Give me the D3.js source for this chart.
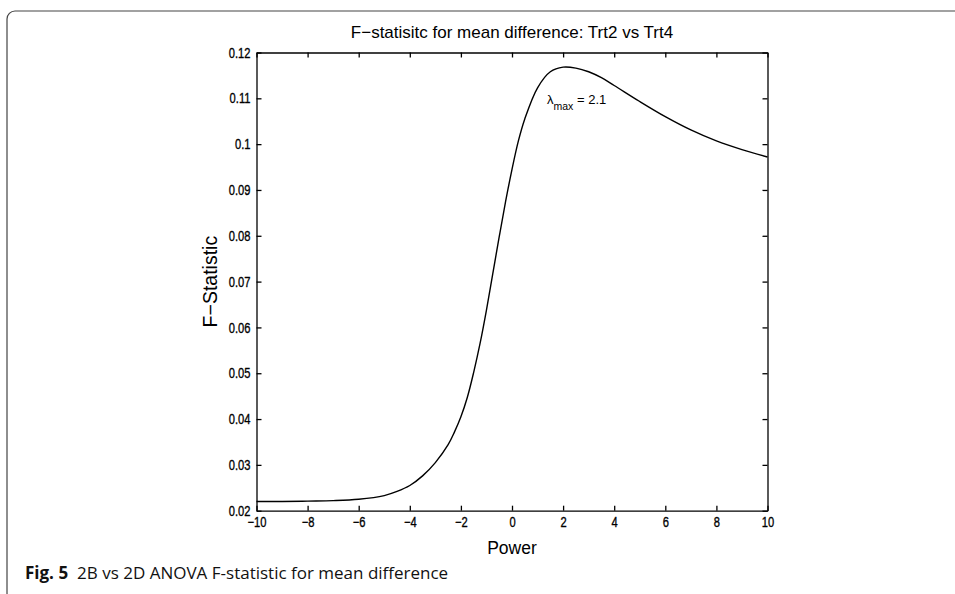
<!DOCTYPE html>
<html>
<head>
<meta charset="utf-8">
<script src="https://cdn.jsdelivr.net/npm/d3@7"></script>
<style>
  body { margin: 0; background: #fff; }
  svg { display: block; }
  .plot text { font-family: "Liberation Sans", Arial, Helvetica, sans-serif; fill: #000; }
  .caption { font-family: "Open Sans", "Noto Sans", sans-serif; font-size: 17px; fill: #111; }
</style>
</head>
<body>
<div id="chart"></div>
<script>
// F-statistic against the Box-Cox power
const power = [-10, -9, -8, -7, -6, -5, -4.5, -4, -3.5, -3, -2.5, -2.25, -2, -1.75, -1.5, -1.25, -1, -0.75, -0.5, -0.25,
               0, 0.25, 0.5, 1, 1.5, 2, 2.5, 3, 3.5, 4, 5, 6, 7, 8, 9, 10];
const fStat = [0.0220, 0.0220, 0.0221, 0.0222, 0.0225, 0.0233, 0.0242, 0.0255, 0.0276, 0.0305, 0.0344, 0.0372, 0.0405, 0.0447, 0.0502, 0.0565, 0.0638, 0.0718, 0.0798, 0.0875,
               0.0945, 0.1007, 0.1055, 0.1123, 0.1158, 0.1168, 0.1166, 0.1158, 0.1145, 0.1128, 0.1093, 0.1060, 0.1031, 0.1007, 0.0988, 0.0972];

const xTicks = [-10, -8, -6, -4, -2, 0, 2, 4, 6, 8, 10];
const yTicks = [0.02, 0.03, 0.04, 0.05, 0.06, 0.07, 0.08, 0.09, 0.1, 0.11, 0.12];

const lambdaMax = 2.1;
const titleText = "F\u2212statisitc for mean difference: Trt2 vs Trt4";
const xLabel = "Power";
const yLabel = "F\u2212Statistic";
const captionBold = "Fig. 5";
const captionText = "2B vs 2D ANOVA F-statistic for mean difference";

const W = 955, H = 594;
const margin = { top: 52.5, right: 187.5, bottom: 83.3, left: 256.5 };
const width = W - margin.left - margin.right;
const height = H - margin.top - margin.bottom;

const svg = d3.select("#chart").append("svg")
  .attr("width", W)
  .attr("height", H)
  .attr("viewBox", `0 0 ${W} ${H}`);

// rounded frame of the figure box
svg.append("rect")
  .attr("x", 7).attr("y", 11)
  .attr("width", 1000).attr("height", 590)
  .attr("rx", 8).attr("ry", 8)
  .attr("fill", "none")
  .attr("stroke", "#444")
  .attr("stroke-width", 1.2);

const g = svg.append("g")
  .attr("class", "plot")
  .attr("transform", `translate(${margin.left},${margin.top})`);

const x = d3.scaleLinear().domain([-10, 10]).range([0, width]);
const y = d3.scaleLinear().domain([0.02, 0.12]).range([height, 0]);

const fmtY = d => String(+d.toFixed(2));

// axes, ticks pointing inward on all four sides
g.append("g")
  .attr("transform", `translate(0,${height})`)
  .call(d3.axisBottom(x).tickValues(xTicks).tickSizeInner(-5).tickSizeOuter(0).tickPadding(6));

g.append("g")
  .call(d3.axisLeft(y).tickValues(yTicks).tickFormat(fmtY).tickSizeInner(-5).tickSizeOuter(0).tickPadding(6));

g.append("g")
  .call(d3.axisTop(x).tickValues(xTicks).tickFormat("").tickSizeInner(-5).tickSizeOuter(0));

g.append("g")
  .attr("transform", `translate(${width},0)`)
  .call(d3.axisRight(y).tickValues(yTicks).tickFormat("").tickSizeInner(-5).tickSizeOuter(0));

g.selectAll(".domain, .tick line").attr("stroke", "#000").attr("stroke-width", 1.3);

// the tick labels of the original are narrow and heavy: squeeze them horizontally
const squeeze = 0.77;
g.selectAll(".tick text")
  .style("font-size", "14.5px")
  .attr("fill", "#000")
  .attr("stroke", "#000")
  .attr("stroke-width", 0.35)
  .attr("x", function () { return (+d3.select(this).attr("x") || 0) / squeeze; })
  .attr("transform", `scale(${squeeze},1)`);

// curve
const line = d3.line()
  .x((d, i) => x(power[i]))
  .y(d => y(d))
  .curve(d3.curveCatmullRom.alpha(0.5));

g.append("path")
  .datum(fStat)
  .attr("fill", "none")
  .attr("stroke", "#000")
  .attr("stroke-width", 1.4)
  .attr("d", line);

// annotation of the maximising power
const ann = g.append("text")
  .attr("x", x(1.37))
  .attr("y", y(0.1088))
  .style("font-size", "13px");
ann.append("tspan").text("\u03bb");
ann.append("tspan").attr("dy", 6).style("font-size", "10.5px").text("max");
ann.append("tspan").attr("dy", -6).text(` = ${lambdaMax}`);

// title and axis labels
g.append("text")
  .attr("x", width / 2)
  .attr("y", -15)
  .attr("text-anchor", "middle")
  .style("font-size", "17px")
  .text(titleText);

g.append("text")
  .attr("x", width / 2)
  .attr("y", height + 43)
  .attr("text-anchor", "middle")
  .style("font-size", "17.5px")
  .text(xLabel);

g.append("text")
  .attr("transform", `translate(-40,${height / 2}) rotate(-90)`)
  .attr("text-anchor", "middle")
  .style("font-size", "19.5px")
  .text(yLabel);

// caption below the figure
const cap = svg.append("text")
  .attr("class", "caption")
  .attr("x", 25)
  .attr("y", 579);
cap.append("tspan").style("font-weight", "bold").text(captionBold);
cap.append("tspan").attr("dx", 9).text(captionText);
</script>
</body>
</html>
